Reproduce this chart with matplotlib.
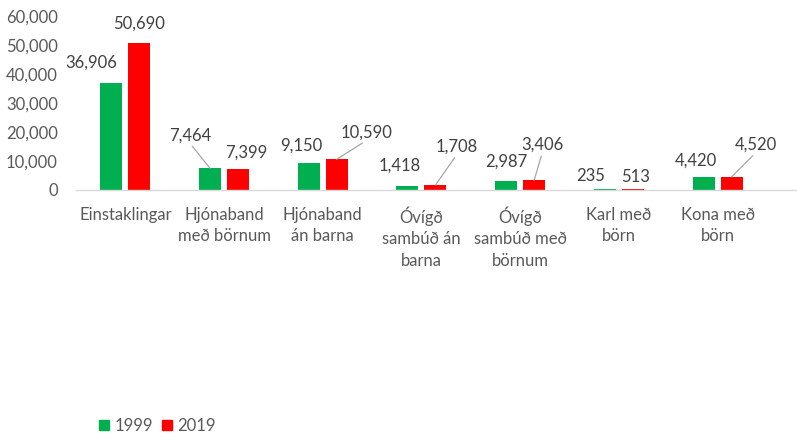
import numpy as np
import matplotlib
matplotlib.use("Agg")
from matplotlib import pyplot as plt
from matplotlib.patches import Patch

plt.rcParams["font.family"] = ["Lato", "DejaVu Sans"]

categories = ["Einstaklingar", "Hjónaband\nmeð börnum", "Hjónaband\nán barna",
              "Óvígð\nsambúð án\nbarna", "Óvígð\nsambúð með\nbörnum",
              "Karl með\nbörn", "Kona með\nbörn"]
series_names = ["1999", "2019"]
values_1999 = [36906, 7464, 9150, 1418, 2987, 235, 4420]
values_2019 = [50690, 7399, 10590, 1708, 3406, 513, 4520]
y_ticks = [0, 10000, 20000, 30000, 40000, 50000, 60000]

colors = ["#00B050", "#FF0000"]
label_color = "#404040"
tick_color = "#595959"

# label offsets in pixels from the top of each bar, and whether a leader line is drawn
offsets_1999 = [(-20, 20), (-20, 33), (-7, 18), (-8, 20), (0, 20), (-14, 13), (-8, 17)]
offsets_2019 = [(0, 19), (8, 16), (30, 27), (21, 38), (8, 35), (3, 12), (24, 32)]
leader_1999 = [False, True, False, False, False, False, False]
leader_2019 = [False, False, True, True, True, False, True]

fig = plt.figure(figsize=(7.97, 4.34), dpi=100)
ax = fig.add_axes([76 / 797, 1 - 190 / 434, 1 - 76 / 797, (190 - 16) / 434])

x = np.arange(len(categories))
width = 0.223
shift = 0.142
bars_a = ax.bar(x - shift, values_1999, width, color=colors[0], label=series_names[0])
bars_b = ax.bar(x + shift, values_2019, width, color=colors[1], label=series_names[1])


def add_labels(bars, vals, offsets, leaders):
    for b, v, off, lead in zip(bars, vals, offsets, leaders):
        xy = (b.get_x() + b.get_width() / 2, b.get_height())
        props = None
        if lead:
            props = dict(arrowstyle="-", color="#a6a6a6", lw=0.9,
                         shrinkA=0, shrinkB=0, relpos=(0.5, 0.0))
        ax.annotate(f"{v:,}", xy=xy, xytext=off, textcoords="offset pixels",
                    ha="center", va="center", fontsize=12, color=label_color,
                    arrowprops=props)


add_labels(bars_a, values_1999, offsets_1999, leader_1999)
add_labels(bars_b, values_2019, offsets_2019, leader_2019)

ax.set_ylim(0, 60000)
ax.set_xlim(-0.5, -0.5 + 721 / 98.7)
ax.set_yticks(y_ticks)
ax.set_yticklabels([f"{t:,}" for t in y_ticks])
ax.set_xticks(x)
ax.set_xticklabels(categories, linespacing=1.4)
ax.tick_params(axis="y", length=0, pad=13, labelsize=12, labelcolor=tick_color)
ax.tick_params(axis="x", length=0, pad=12, labelsize=12, labelcolor=tick_color)
for s in ["top", "right", "left"]:
    ax.spines[s].set_visible(False)
ax.spines["bottom"].set_color("#d9d9d9")
ax.spines["bottom"].set_linewidth(1.0)

handles = [Patch(color=colors[0]), Patch(color=colors[1])]
fig.legend(handles, series_names, loc="center left", bbox_to_anchor=(99 / 797, 1 - 426 / 434),
           ncol=2, frameon=False, fontsize=12, handlelength=0.6, handleheight=0.6,
           handletextpad=0.35, columnspacing=0.5, borderpad=0, borderaxespad=0,
           labelcolor=tick_color)

fig.savefig("out.png", dpi=100)
